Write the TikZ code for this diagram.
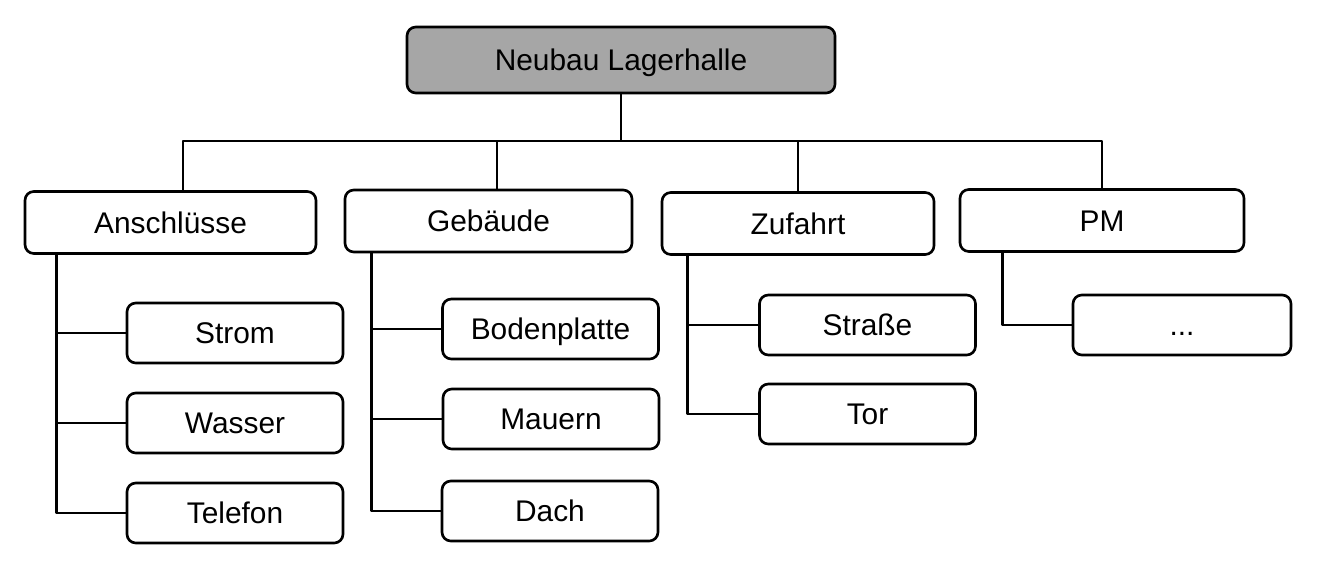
\documentclass[tikz,border=0pt]{standalone}
\usepackage{fontspec}
\setmainfont{Liberation Sans}
\usepackage{tikz}
\usetikzlibrary{positioning, calc}
\tikzset{every picture/.append style={thick}}

\begin{document}
\begin{tikzpicture}[line width=1.5pt, line join=round,
    box/.style={draw, rounded corners=5pt, minimum height=1.24cm, inner sep=0pt,
        text height=16.5pt, text depth=4pt, font=\fontsize{17}{20}\selectfont},
    rootbox/.style={box, fill=black!35, minimum width=8.56cm, minimum height=1.32cm},
    wpbox/.style={box, minimum width=5.7cm},
    subbox/.style={box, minimum width=4.32cm, minimum height=1.2cm}]
    \useasboundingbox (0,0) rectangle (26.34,-11.4);

    % Root
    \node[rootbox] (root) at (12.42,-1.2) {Neubau Lagerhalle};
    \coordinate (bus) at (12.42,-2.82);

    % Work packages
    \node[wpbox, minimum width=5.82cm] (anschl) at (3.41,-4.45) {Anschlüsse};
    \node[wpbox, minimum width=5.74cm] (gebaeude) at (9.77,-4.42) {Gebäude};
    \node[wpbox, minimum width=5.44cm] (zufahrt) at (15.96,-4.47) {Zufahrt};
    \node[wpbox, minimum width=5.68cm] (pm) at (22.04,-4.41) {PM};

    % Sub packages
    \node[subbox] (strom) at (4.7,-6.66) {Strom};
    \node[subbox] (wasser) at (4.7,-8.46) {Wasser};
    \node[subbox] (telefon) at (4.7,-10.26) {Telefon};
    \node[subbox] (boden) at (11.01,-6.58) {Bodenplatte};
    \node[subbox] (mauern) at (11.02,-8.38) {Mauern};
    \node[subbox] (dach) at (11.0,-10.22) {Dach};
    \node[subbox] (strasse) at (17.35,-6.5) {Straße};
    \node[subbox] (tor) at (17.35,-8.28) {Tor};
    \node[subbox, minimum width=4.36cm] (rest) at (23.64,-6.5) {...};

    % Top level
    \draw (root.south) -- (bus);
    \draw (bus) -| ([xshift=0.25cm]anschl.north);
    \draw (bus) -| ([xshift=0.17cm]gebaeude.north);
    \draw (bus) -| (zufahrt.north);
    \draw (bus) -| (pm.north);

    % Branches
    \foreach \sub in {strom, wasser, telefon}
        \draw ([xshift=0.66cm]anschl.south west) |- (\sub.west);
    \foreach \sub in {boden, mauern, dach}
        \draw ([xshift=0.56cm]gebaeude.south west) |- (\sub.west);
    \foreach \sub in {strasse, tor}
        \draw ([xshift=0.54cm]zufahrt.south west) |- (\sub.west);
    \draw ([xshift=0.88cm]pm.south west) |- (rest.west);
\end{tikzpicture}
\end{document}
